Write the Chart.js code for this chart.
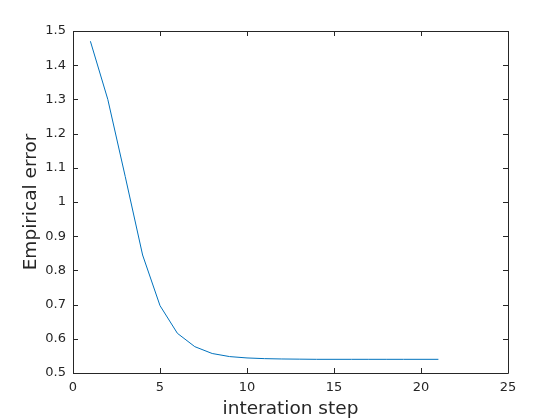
<!DOCTYPE html>
<html>
<head>
<meta charset="utf-8">
<script src="https://cdn.jsdelivr.net/npm/chart.js@4"></script>
<style>
  html, body { margin: 0; padding: 0; background: #fff; }
  #c { display: block; }
</style>
</head>
<body>
<canvas id="c" width="560" height="420"></canvas>
<script>
// iteration steps and the error
const steps = [1, 2, 3, 4, 5, 6, 7, 8, 9, 10, 11, 12, 13, 14, 15, 16, 17, 18, 19, 20, 21];
const errors = [1.47, 1.30, 1.075, 0.845, 0.697, 0.616, 0.577, 0.557, 0.548, 0.544, 0.542,
  0.541, 0.5405, 0.540, 0.540, 0.540, 0.540, 0.540, 0.540, 0.540, 0.540];
const xTicks = [0, 5, 10, 15, 20, 25];
const yTicks = [0.5, 0.6, 0.7, 0.8, 0.9, 1.0, 1.1, 1.2, 1.3, 1.4, 1.5];

const axisColor = '#262626';
const fontFamily = '"DejaVu Sans", sans-serif';

// matlab-style box with inward ticks on all four sides
const boxTicks = {
  id: 'boxTicks',
  afterDraw(chart) {
    const { ctx, chartArea: a, scales: { x, y } } = chart;
    const len = 5;
    ctx.save();
    ctx.strokeStyle = axisColor;
    ctx.lineWidth = 1;
    ctx.beginPath();
    ctx.rect(Math.round(a.left) + 0.5, Math.round(a.top) + 0.5,
      Math.round(a.right - a.left), Math.round(a.bottom - a.top));
    xTicks.forEach(v => {
      const px = Math.round(x.getPixelForValue(v)) + 0.5;
      ctx.moveTo(px, a.bottom); ctx.lineTo(px, a.bottom - len);
      ctx.moveTo(px, a.top); ctx.lineTo(px, a.top + len);
    });
    yTicks.forEach(v => {
      const py = Math.round(y.getPixelForValue(v)) + 0.5;
      ctx.moveTo(a.left, py); ctx.lineTo(a.left + len, py);
      ctx.moveTo(a.right, py); ctx.lineTo(a.right - len, py);
    });
    ctx.stroke();
    ctx.restore();
  }
};

new Chart(document.getElementById('c'), {
  type: 'line',
  data: {
    datasets: [{
      data: steps.map((s, i) => ({ x: s, y: errors[i] })),
      borderColor: '#0072BD',
      borderWidth: 1,
      pointRadius: 0,
      fill: false,
      tension: 0
    }]
  },
  options: {
    responsive: false,
    animation: false,
    devicePixelRatio: 1,
    layout: { padding: { top: 31, right: 52, left: 0, bottom: 0 } },
    plugins: { legend: { display: false }, tooltip: { enabled: false } },
    scales: {
      x: {
        type: 'linear',
        min: 0, max: 25,
        afterBuildTicks: s => { s.ticks = xTicks.map(v => ({ value: v })); },
        afterFit: s => { s.height = 47; },
        grid: { display: false, drawTicks: false },
        border: { display: false },
        ticks: { color: axisColor, font: { family: fontFamily, size: 13 }, padding: 7, maxRotation: 0 },
        title: {
          display: true, text: 'interation step', color: axisColor,
          font: { family: fontFamily, size: 18.5 }, padding: { top: 0, bottom: 0 }
        }
      },
      y: {
        min: 0.5, max: 1.5,
        afterBuildTicks: s => { s.ticks = yTicks.map(v => ({ value: v })); },
        afterFit: s => { s.width = 73; },
        grid: { display: false, drawTicks: false },
        border: { display: false },
        ticks: {
          color: axisColor, font: { family: fontFamily, size: 13 }, padding: 7,
          callback: v => String(Number(v.toFixed(1)))
        },
        title: {
          display: true, text: 'Empirical error', color: axisColor,
          font: { family: fontFamily, size: 18.5 }, padding: { top: 20, bottom: 0 }
        }
      }
    }
  },
  plugins: [boxTicks]
});
</script>
</body>
</html>
